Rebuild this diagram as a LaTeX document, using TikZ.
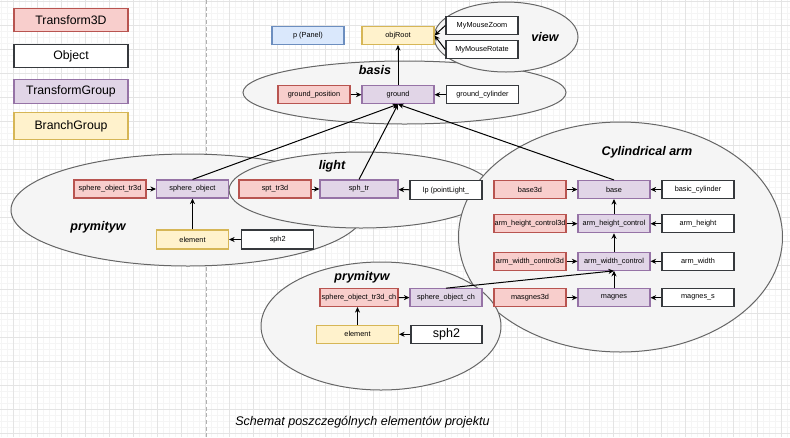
\documentclass[tikz,border=0pt]{standalone}
\usepackage{fontspec}
\setmainfont{Liberation Sans}
\usetikzlibrary{arrows.meta,shapes.geometric}
\definecolor{tfill}{HTML}{F8CECC}\definecolor{tline}{HTML}{B85450}
\definecolor{gfill}{HTML}{E1D5E7}\definecolor{gline}{HTML}{9673A6}
\definecolor{bfill}{HTML}{FFF2CC}\definecolor{bline}{HTML}{D6B656}
\definecolor{pfill}{HTML}{DAE8FC}\definecolor{pline}{HTML}{6C8EBF}
\definecolor{oline}{HTML}{36393D}
\definecolor{efill}{HTML}{F5F5F5}\definecolor{eline}{HTML}{666666}
\definecolor{gridmin}{HTML}{F5F5F5}\definecolor{gridmaj}{HTML}{E4E4E4}
\definecolor{dashc}{HTML}{B0B0B0}
\tikzset{
  pxsize/.style 2 args={minimum width=#1*0.75pt, minimum height=#2*0.75pt},
  box/.style={rectangle, draw, inner sep=0pt, pxsize={72}{18}, line width=0.8pt,
    font=\fontsize{5.5}{6}\selectfont},
  t3d/.style={box, fill=tfill, draw=tline},
  tgr/.style={box, fill=gfill, draw=gline},
  bgr/.style={box, fill=bfill, draw=bline},
  pnl/.style={box, fill=pfill, draw=pline},
  obj/.style={box, fill=white, draw=oline, line width=1pt},
  leg/.style={pxsize={114}{23}, font=\fontsize{9.2}{11}\selectfont, line width=1.1pt},
  ell/.style={ellipse, draw=eline, fill=efill, line width=0.75pt, inner sep=0pt},
  lab/.style={font=\fontsize{9.4}{11}\selectfont\bfseries\itshape, inner sep=0pt},
  arr/.style={-{Stealth[length=4.2pt,width=3.8pt]}, line width=0.75pt, black},
}
\begin{document}
\begin{tikzpicture}[x=0.75pt,y=-0.75pt]
\useasboundingbox (0,0) rectangle (790,437);
\fill[white] (0,0) rectangle (790,437);
% grid
\foreach \i in {0,...,131} \draw[gridmin, line width=0.6pt] ({1.3+6*\i},0) -- ({1.3+6*\i},437);
\foreach \j in {0,...,72} \draw[gridmin, line width=0.6pt] (0,{1+6*\j}) -- (790,{1+6*\j});
\foreach \i in {0,...,32} \draw[gridmaj, line width=0.75pt] ({13.3+24*\i},0) -- ({13.3+24*\i},437);
\foreach \j in {0,...,18} \draw[gridmaj, line width=0.75pt] (0,{1+24*\j}) -- (790,{1+24*\j});
% dashed separator
\coordinate (dtop) at (206.5,0);
\coordinate (dbot) at (206.5,437);
\draw[dashc, line width=0.75pt, dash pattern=on 3pt off 2pt] (dtop) -- (dbot);
% legend
\node[t3d,leg] (lt3d) at (71,20) {Transform3D};
\node[obj,leg] (lobj) at (71,56) {Object};
\node[tgr,leg,pxsize={114}{24}] (ltg) at (71,91.5) {TransformGroup};
\node[bgr,leg,pxsize={114}{27}] (lbg) at (71,126) {BranchGroup};
% ellipses
\node[ell, pxsize={323}{63}] (ebasis) at (404.5,92.5) {};
\node[ell, pxsize={144}{70}] (eview) at (506,37) {};
\node[ell, pxsize={354}{112}] (epry1) at (188,210) {};
\node[ell, pxsize={264}{76}] (elight) at (361,190) {};
\node[ell, pxsize={324}{230}] (ecyl) at (620.5,237) {};
\node[ell, pxsize={240}{128}] (epry2) at (381,326) {};
% labels
\node[lab] (tview) at (545,37) {view};
\node[lab] (tbasis) at (375,70) {basis};
\node[lab] (tpry1) at (98,227) {prymityw};
\node[lab] (tlight) at (332,166) {light};
\node[lab] (tcyl) at (647,152) {Cylindrical arm};
\node[lab] (tpry2) at (362,277) {prymityw};
% top
\node[pnl] (panel) at (308,35.5) {p (Panel)};
\node[bgr] (objroot) at (398,35.5) {objRoot};
\node[obj] (mzoom) at (482,25.5) {MyMouseZoom};
\node[obj] (mrot) at (482,49.5) {MyMouseRotate};
\node[t3d] (gpos) at (314,94.7) {ground\_position};
\node[tgr] (ground) at (398,94.7) {ground};
\node[obj] (gcyl) at (482.5,94.7) {ground\_cylinder};
% left prymityw
\node[t3d] (sot3d) at (110,189) {sphere\_object\_tr3d};
\node[tgr] (so) at (192.5,189) {sphere\_object};
\node[bgr, pxsize={72}{19}] (elem1) at (192.5,239.5) {element};
\node[obj, pxsize={72}{19}] (sph2a) at (277.7,239.5) {sph2};
% light
\node[t3d] (spt) at (275,189) {spt\_tr3d};
\node[tgr, pxsize={78}{18}] (sphtr) at (359,189) {sph\_tr};
\node[obj, pxsize={72}{19}] (lp) at (446,190.3) {lp (pointLight\_};
% cylindrical arm
\node[t3d] (base3d) at (530,189.5) {base3d};
\node[tgr] (base) at (614,189.5) {base};
\node[obj] (bcyl) at (698,189.5) {basic\_cylinder};
\node[t3d] (ahc3d) at (530,223.7) {arm\_height\_control3d};
\node[tgr] (ahc) at (614,223.7) {arm\_height\_control};
\node[obj] (ah) at (698,223.7) {arm\_height};
\node[t3d] (awc3d) at (530,261.3) {arm\_width\_control3d};
\node[tgr] (awc) at (614,261.3) {arm\_width\_control};
\node[obj] (aw) at (698,261.3) {arm\_width};
\node[t3d] (m3d) at (530,297.7) {masgnes3d};
\node[tgr] (magnes) at (614,297.7) {magnes};
\node[obj] (ms) at (698,297.7) {magnes\_s};
% lower prymityw
\node[t3d, pxsize={78}{18}] (sot3dch) at (359,297.5) {sphere\_object\_tr3d\_ch};
\node[tgr] (soch) at (446,297.7) {sphere\_object\_ch};
\node[bgr, pxsize={82}{18}] (elem2) at (357.5,334.3) {element};
\node[obj, pxsize={71}{18}, font=\fontsize{9.4}{11}\selectfont] (sph2b) at (446.5,334.3) {sph2};
% caption
\node[font=\fontsize{9.4}{11}\selectfont\itshape, inner sep=0pt] (cap) at (362.5,421.7) {Schemat poszczególnych elementów projektu};
% connectors
\draw[arr] (gpos) -- (ground);
\draw[arr] (gcyl) -- (ground);
\draw[arr] (ground) -- (objroot);
\draw[arr] (mzoom.west) -- (objroot.east);
\draw[arr] (mrot.west) -- (objroot.east);
\draw[arr] (so.north) -- (ground.south);
\draw[arr] (sphtr.north) -- (ground.south);
\draw[arr] (base.north) -- (ground.south);
\draw[arr] (sot3d) -- (so);
\draw[arr] (sph2a) -- (elem1);
\draw[arr] (elem1) -- (so);
\draw[arr] (spt) -- (sphtr);
\draw[arr] (lp) -- (sphtr);
\draw[arr] (base3d) -- (base);
\draw[arr] (bcyl) -- (base);
\draw[arr] (ahc3d) -- (ahc);
\draw[arr] (ah) -- (ahc);
\draw[arr] (awc3d) -- (awc);
\draw[arr] (aw) -- (awc);
\draw[arr] (m3d) -- (magnes);
\draw[arr] (ms) -- (magnes);
\draw[arr] (ahc) -- (base);
\draw[arr] (awc) -- (ahc);
\draw[arr] (magnes) -- (awc);
\draw[arr] (soch.north) -- (awc.south);
\draw[arr] (sot3dch) -- (soch);
\draw[arr] (sph2b) -- (elem2);
\draw[arr] (elem2.north) -- (elem2.north |- sot3dch.south);
\end{tikzpicture}
\end{document}
